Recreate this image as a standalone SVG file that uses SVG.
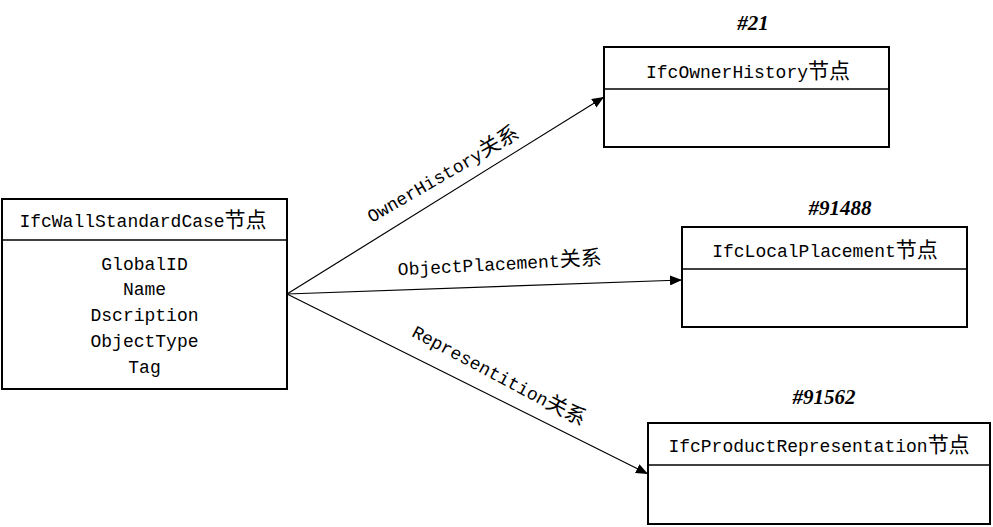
<svg xmlns="http://www.w3.org/2000/svg" width="993" height="527" viewBox="0 0 993 527">
<defs>
<style>
.box{fill:#fff;stroke:#000;stroke-width:2}
.div{stroke:#000;stroke-width:1.5}
.t{font-family:"Liberation Mono","Noto Sans CJK SC",monospace;font-size:18px;fill:#000;text-anchor:middle}
.c{font-family:"Noto Sans CJK SC",sans-serif;font-size:21px}
.id{font-family:"Liberation Serif",serif;font-size:21px;font-weight:bold;font-style:italic;text-anchor:middle;fill:#000}
.ln{stroke:#000;stroke-width:1.2;fill:none;marker-end:url(#ah)}
</style>
<marker id="ah" viewBox="0 0 12 10" refX="12" refY="5" markerWidth="12" markerHeight="10" markerUnits="userSpaceOnUse" orient="auto">
<path d="M0,0 L12,5 L0,10 z" fill="#000"/>
</marker>
</defs>
<rect width="993" height="527" fill="#fff"/>
<g id="wall">
<rect class="box" x="2" y="199" width="285" height="190"/>
<line class="div" x1="2" y1="240" x2="287" y2="240"/>
<text class="t" x="143" y="227">IfcWallStandardCase<tspan class="c">节点</tspan></text>
<text class="t" x="144.5" y="270">GlobalID</text>
<text class="t" x="144.5" y="295">Name</text>
<text class="t" x="144.5" y="321">Dscription</text>
<text class="t" x="144.5" y="347">ObjectType</text>
<text class="t" x="144.5" y="373">Tag</text>
</g>
<g id="ownerhistory">
<text class="id" x="753" y="30">#21</text>
<rect class="box" x="604" y="47" width="285" height="100"/>
<line class="div" x1="604" y1="89" x2="889" y2="89"/>
<text class="t" x="748" y="78">IfcOwnerHistory<tspan class="c">节点</tspan></text>
</g>
<g id="localplacement">
<text class="id" x="840" y="215">#91488</text>
<rect class="box" x="682" y="227" width="285" height="100"/>
<line class="div" x1="682" y1="269" x2="967" y2="269"/>
<text class="t" x="825" y="257">IfcLocalPlacement<tspan class="c">节点</tspan></text>
</g>
<g id="productrep">
<text class="id" x="824" y="404">#91562</text>
<rect class="box" x="648" y="423" width="342" height="101"/>
<line class="div" x1="648" y1="465" x2="990" y2="465"/>
<text class="t" x="819" y="452">IfcProductRepresentation<tspan class="c">节点</tspan></text>
</g>
<g id="connectors">
<line class="ln" x1="287" y1="294" x2="604" y2="97"/>
<line class="ln" x1="287" y1="294" x2="682" y2="280"/>
<line class="ln" x1="287" y1="294" x2="648" y2="474"/>
<text class="t" transform="translate(446,180) rotate(-30)">OwnerHistory<tspan class="c">关系</tspan></text>
<text class="t" transform="translate(500,270) rotate(-3)">ObjectPlacement<tspan class="c">关系</tspan></text>
<text class="t" transform="translate(496,381) rotate(28)">Representition<tspan class="c">关系</tspan></text>
</g>
</svg>
